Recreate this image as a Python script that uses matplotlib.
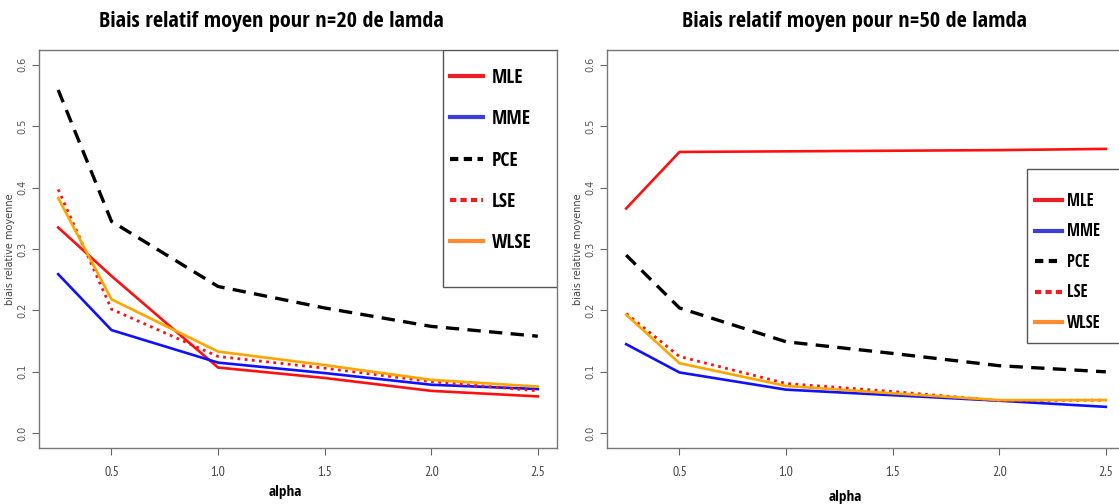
import numpy as np
import matplotlib
matplotlib.use('Agg')
import matplotlib.pyplot as plt
from matplotlib.patches import Rectangle

# alpha values (x axis)
alpha = [0.25, 0.5, 1.0, 1.5, 2.0, 2.5]

# n = 20
mle_20 = [0.335, 0.256, 0.107, 0.090, 0.069, 0.060]
mme_20 = [0.259, 0.168, 0.115, 0.098, 0.079, 0.072]
pce_20 = [0.559, 0.345, 0.239, 0.204, 0.174, 0.158]
lse_20 = [0.397, 0.202, 0.125, 0.106, 0.084, 0.069]
wlse_20 = [0.383, 0.218, 0.133, 0.111, 0.087, 0.076]

# n = 50
mle_50 = [0.366, 0.458, 0.459, 0.460, 0.461, 0.463]
mme_50 = [0.145, 0.099, 0.071, 0.062, 0.053, 0.043]
pce_50 = [0.290, 0.204, 0.149, 0.130, 0.110, 0.100]
lse_50 = [0.195, 0.125, 0.081, 0.068, 0.053, 0.054]
wlse_50 = [0.193, 0.114, 0.077, 0.065, 0.054, 0.054]

labels = ['MLE', 'MME', 'PCE', 'LSE', 'WLSE']
titles = ['Biais relatif moyen pour n=20 de lamda', 'Biais relatif moyen pour n=50 de lamda']
yticks = [0.0, 0.1, 0.2, 0.3, 0.4, 0.5, 0.6]
xticks = [0.5, 1.0, 1.5, 2.0, 2.5]

cond = ['Open Sans Condensed', 'DejaVu Sans']
narrow = ['PT Sans Narrow', 'DejaVu Sans']

fig = plt.figure(figsize=(11.19, 5.04), dpi=100)
fig.patch.set_facecolor('white')

ax1 = fig.add_axes([39 / 1119, 56 / 504, 518 / 1119, 398 / 504])
ax2 = fig.add_axes([607 / 1119, 56 / 504, 518 / 1119, 398 / 504])


def draw_panel(ax, data):
    mle, mme, pce, lse, wlse = data
    ax.plot(alpha, mle, color='#ff1010', lw=1.9)
    ax.plot(alpha, mme, color='#1010ff', lw=1.9)
    ax.plot(alpha, pce, color='black', lw=2.4, ls=(0, (4, 2.5)))
    ax.plot(alpha, lse, color='#ff1010', lw=2.0, ls=(0, (1, 1.6)))
    ax.plot(alpha, wlse, color='#ffa500', lw=1.9)
    ax.set_xlim(0.16, 2.59)
    ax.set_ylim(-0.024, 0.624)
    ax.set_xticks(xticks)
    ax.set_xticklabels(['%.1f' % t for t in xticks], family=narrow, fontsize=10, color='#444444')
    ax.set_yticks(yticks)
    ax.set_yticklabels(['%.1f' % t for t in yticks], rotation=90, va='center',
                       fontsize=7, color='#555555')
    ax.tick_params(axis='x', length=5, pad=8, color='#666666')
    ax.tick_params(axis='y', length=5, pad=3.5, color='#666666')
    for s in ax.spines.values():
        s.set_color('#777777')
        s.set_linewidth(1.0)
    ax.set_ylabel('biais relative moyenne', fontsize=7, color='#444444', labelpad=1.5)


draw_panel(ax1, [mle_20, mme_20, pce_20, lse_20, wlse_20])
draw_panel(ax2, [mle_50, mme_50, pce_50, lse_50, wlse_50])

# legend handles
leg_styles = [
    dict(color='#ee1c24', lw=3.0),
    dict(color='#3a3fd9', lw=3.0),
    dict(color='black', lw=3.0, ls=(0, (2, 1.3))),
    dict(color='#ee1c24', lw=3.0, ls=(0, (1.5, 1.0))),
    dict(color='#ff8a30', lw=3.0),
]
handles = [plt.Line2D([], [], **st) for st in leg_styles]

# left legend box
ax1.add_patch(Rectangle((0.779, 0.405), 0.221, 0.595, transform=ax1.transAxes,
                        fill=True, facecolor='white', edgecolor='#555555', lw=1.0, zorder=5))
lg1 = ax1.legend(handles, labels, loc='upper left', bbox_to_anchor=(0.779, 0.975),
                 frameon=False, prop=dict(family=cond, weight='bold', size=14),
                 handlelength=1.7, handletextpad=0.45, labelspacing=1.1, borderpad=0.4,
                 borderaxespad=0)
lg1.set_zorder(6)

# right legend box
ax2.add_patch(Rectangle((0.8115, 0.263), 0.25, 0.437, transform=ax2.transAxes,
                        fill=True, facecolor='white', edgecolor='#555555', lw=1.0,
                        zorder=5, clip_on=False))
lg2 = ax2.legend(handles, labels, loc='upper left', bbox_to_anchor=(0.802, 0.675),
                 frameon=False, prop=dict(family=cond, weight='bold', size=12),
                 handlelength=1.6, handletextpad=0.3, labelspacing=0.75, borderpad=0.75,
                 borderaxespad=0)
lg2.set_zorder(6)

# titles and x labels
fig.text(271 / 1119, 1 - 22 / 504, titles[0], ha='center', va='center',
         family=cond, weight='bold', fontsize=16)
fig.text(854 / 1119, 1 - 22 / 504, titles[1], ha='center', va='center',
         family=cond, weight='bold', fontsize=16)
fig.text(285 / 1119, 1 - 492 / 504, 'alpha', ha='center', va='center',
         family=cond, weight='bold', fontsize=11)
fig.text(845 / 1119, 1 - 497 / 504, 'alpha', ha='center', va='center',
         family=cond, weight='bold', fontsize=11)

fig.savefig('out.png', dpi=100, facecolor='white')
